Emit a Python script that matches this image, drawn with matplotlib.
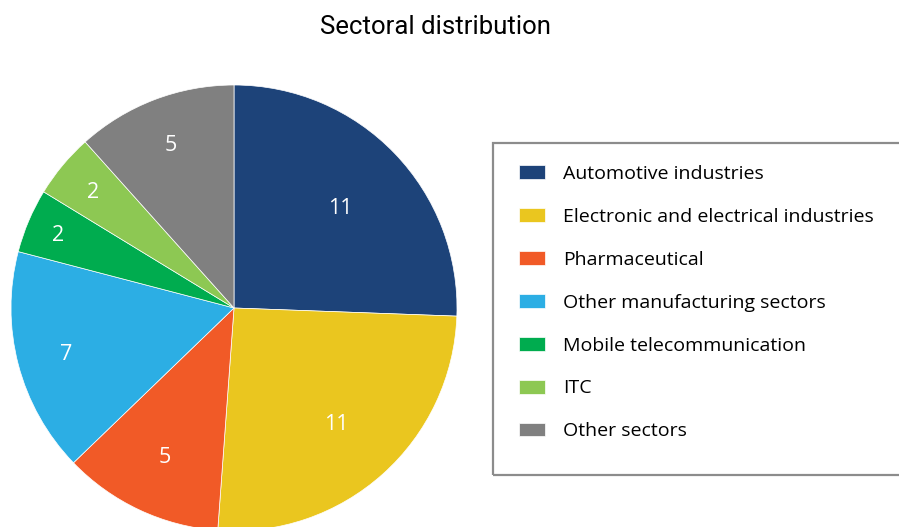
import numpy as np
import matplotlib
matplotlib.use("Agg")
import matplotlib.pyplot as plt
from matplotlib.patches import Rectangle

sectors = ["Automotive industries", "Electronic and electrical industries",
           "Pharmaceutical", "Other manufacturing sectors",
           "Mobile telecommunication", "ITC", "Other sectors"]
counts = [11, 11, 5, 7, 2, 2, 5]
colors = ["#1d4379", "#eac61f", "#f15a27", "#2caee4", "#00ac4f", "#8dc853", "#808080"]

# how far out each number sits inside its slice
label_r = [0.66, 0.69, 0.73, 0.78, 0.855, 0.825, 0.79]

W, H = 899, 527
fig = plt.figure(figsize=(W / 100, H / 100), dpi=100)

# pie centre at (234, 308) px, radius 223 px
cx, cy, r = 234, 308, 223
ax = fig.add_axes([(cx - r) / W, 1 - (cy + r) / H, 2 * r / W, 2 * r / H])
wedges, _ = ax.pie(counts, colors=colors, startangle=90, counterclock=False,
                   wedgeprops=dict(linewidth=0.5, edgecolor="white"))
ax.set_xlim(-1, 1)
ax.set_ylim(-1, 1)
ax.set_aspect("equal")
ax.axis("off")

num_fs = 15.5
half_digit = 0.36 * num_fs * 100 / 72 / r  # half digit height in data units
for w, n, d in zip(wedges, counts, label_r):
    ang = np.deg2rad((w.theta1 + w.theta2) / 2)
    ax.text(d * np.cos(ang), d * np.sin(ang) - half_digit, str(n), color="white",
            fontsize=num_fs, family="Open Sans", ha="center", va="baseline")

fig.text(436 / W, 1 - 27 / H, "Sectoral distribution", ha="center", va="center",
         fontsize=18.5, family=["Roboto", "DejaVu Sans"])

# legend frame runs off the right edge
fig.patches.append(Rectangle((493 / W, 1 - 475 / H), 500 / W, 332 / H,
                             transform=fig.transFigure, fill=False,
                             edgecolor="#8c8c8c", linewidth=1.6))

fs = 14
fpx = fs * 100 / 72
leg = fig.legend(wedges, sectors, loc="upper left",
                 bbox_to_anchor=(519 / W, 1 - 165 / H), bbox_transform=fig.transFigure,
                 frameon=False, borderpad=0, borderaxespad=0,
                 prop=dict(family="Open Sans", size=fs),
                 handlelength=26 / fpx, handleheight=14 / fpx,
                 handletextpad=18 / fpx, labelspacing=1.28)

fig.savefig("out.png", dpi=100)
